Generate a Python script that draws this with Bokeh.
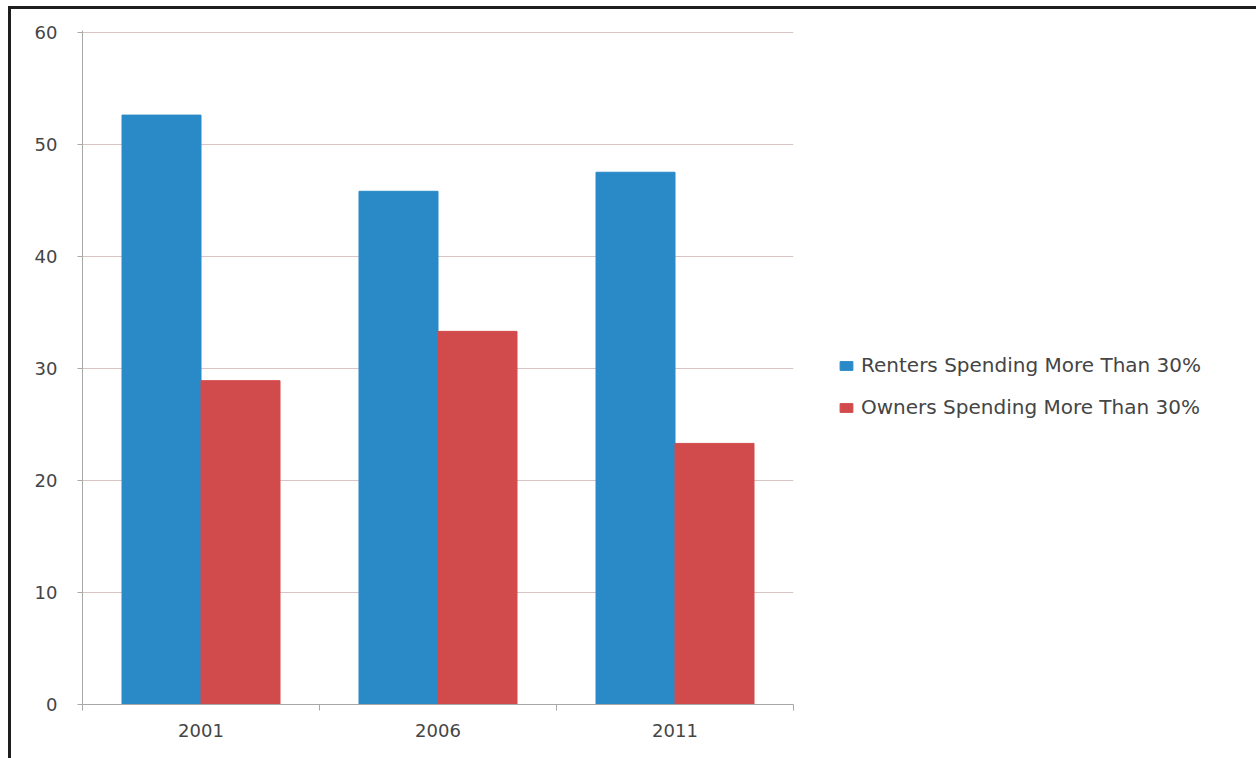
from bokeh.plotting import figure
from bokeh.models import ColumnDataSource, FixedTicker, Legend, LegendItem, Range1d
from bokeh.transform import dodge
from bokeh.embed import file_html
from bokeh.resources import INLINE

years = ["2001", "2006", "2011"]
renters = [52.6, 45.8, 47.5]
owners = [28.9, 33.3, 23.3]
y_ticks = [0, 10, 20, 30, 40, 50, 60]

xpos = [i + 0.5 for i in range(len(years))]
src = ColumnDataSource(dict(x=xpos, renters=renters, owners=owners))

p = figure(frame_width=711, frame_height=674, output_backend="svg", toolbar_location=None,
           x_range=Range1d(0, len(years)), y_range=Range1d(0, 60.15),
           min_border_left=71, min_border_top=21, min_border_bottom=54, min_border_right=462)
p.styles = {"border-top": "3px solid #1e1e1e", "border-left": "3px solid #1e1e1e"}
p.margin = (6, 0, 0, 8)
p.outline_line_color = None
p.background_fill_color = "white"

r1 = p.vbar(x=dodge("x", -1/6, range=p.x_range), top="renters", width=1/3, source=src,
            fill_color="#2a8ac8", line_color="#2a8ac8")
r2 = p.vbar(x=dodge("x", 1/6, range=p.x_range), top="owners", width=1/3, source=src,
            fill_color="#d24b4c", line_color="#d24b4c")

font = "DejaVu Sans"
p.xaxis.ticker = FixedTicker(ticks=xpos, minor_ticks=list(range(len(years) + 1)))
p.xaxis.major_label_overrides = {x: y for x, y in zip(xpos, years)}
p.xaxis.major_tick_line_color = None
p.xaxis.minor_tick_line_color = "#a8a8a8"
p.xaxis.minor_tick_in = 0
p.xaxis.minor_tick_out = 6
p.xaxis.axis_line_color = "#a8a8a8"
p.xaxis.major_label_standoff = 13
p.xgrid.grid_line_color = None

p.yaxis.ticker = FixedTicker(ticks=y_ticks, minor_ticks=[])
p.yaxis.axis_line_color = "#a8a8a8"
p.yaxis.major_tick_line_color = "#a8a8a8"
p.yaxis.major_tick_in = 0
p.yaxis.major_tick_out = 5
p.yaxis.minor_tick_line_color = None
p.yaxis.major_label_standoff = 20
p.ygrid.grid_line_color = "#d9c4c4"
p.ygrid.ticker = FixedTicker(ticks=y_ticks)

for ax in (p.xaxis, p.yaxis):
    ax.major_label_text_font = font
    ax.major_label_text_font_size = "18px"
    ax.major_label_text_color = "#454545"

legend = Legend(items=[LegendItem(label="Renters Spending More Than 30%", renderers=[r1]),
                       LegendItem(label="Owners Spending More Than 30%", renderers=[r2])],
                location=(45, 285), border_line_color=None, background_fill_alpha=0,
                label_text_font=font, label_text_font_size="20px", label_text_color="#454545",
                glyph_width=16, glyph_height=11, spacing=18, label_height=22,
                label_standoff=7, margin=0, padding=0)
p.add_layout(legend, "right")

open("out.html", "w").write(file_html(p, INLINE))
